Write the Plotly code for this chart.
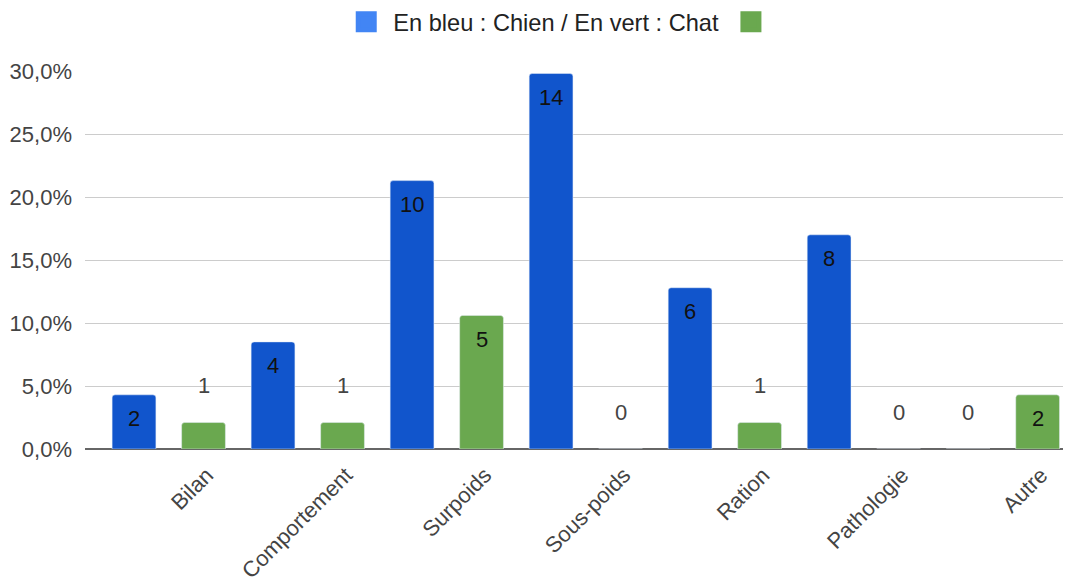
import plotly.graph_objects as go

# ---- data ----
categories = ["Bilan", "Comportement", "Surpoids", "Sous-poids", "Ration", "Pathologie", "Autre"]
dog_pct = [4.3, 8.5, 21.3, 29.8, 12.8, 17.0, 0.0]      # En bleu : Chien (%)
cat_pct = [2.1, 2.1, 10.6, 0.0, 2.1, 0.0, 4.3]         # En vert : Chat (%)
dog_counts = [2, 4, 10, 14, 6, 8, 0]
cat_counts = [1, 1, 5, 0, 1, 0, 2]
y_ticks = [0, 5, 10, 15, 20, 25, 30]
y_tick_labels = ["0,0%", "5,0%", "10,0%", "15,0%", "20,0%", "25,0%", "30,0%"]
legend_name = "En bleu : Chien / En vert : Chat"

# ---- styles ----
FONT = "Liberation Sans, Arial, sans-serif"
DOG_BAR = "#1155CC"
DOG_LEG = "#4285F4"
CAT_BAR = "#6AA84F"

dog_x = [2 * i for i in range(len(categories))]
cat_x = [2 * i + 1 for i in range(len(categories))]
tick_x = [x + 0.05 for x in cat_x]

fig = go.Figure()
fig.add_trace(go.Bar(x=dog_x, y=dog_pct, width=0.63, marker=dict(color=DOG_BAR, cornerradius=3),
                     showlegend=False, hoverinfo="y"))
fig.add_trace(go.Bar(x=cat_x, y=cat_pct, width=0.63, marker=dict(color=CAT_BAR, cornerradius=3),
                     showlegend=False, hoverinfo="y"))
# legend entries
fig.add_trace(go.Scatter(x=[None], y=[None], mode="markers", name=legend_name,
                         marker=dict(symbol="square", size=16, color=DOG_LEG,
                                     line=dict(color=DOG_LEG, width=7))))
fig.add_trace(go.Scatter(x=[None], y=[None], mode="markers", name="",
                         marker=dict(symbol="square", size=16, color=CAT_BAR,
                                     line=dict(color=CAT_BAR, width=7))))

annotations = []
for xs, vals, counts in ((dog_x, dog_pct, dog_counts), (cat_x, cat_pct, cat_counts)):
    for x, v, c in zip(xs, vals, counts):
        inside = v >= 3
        annotations.append(dict(x=x, y=v, xref="x", yref="y", text=str(c), showarrow=False,
                                yshift=-24 if inside else 37,
                                font=dict(family=FONT, size=22,
                                          color="#111111" if inside else "#444444")))

# the page body adds an 8px offset, margins compensate for it
fig.update_layout(
    width=1071, height=582,
    margin=dict(l=77, r=8, t=63, b=141),
    paper_bgcolor="white", plot_bgcolor="white",
    separators=", ",
    font=dict(family=FONT, size=22, color="#444444"),
    barmode="overlay",
    showlegend=True,
    legend=dict(orientation="h", x=0.483, xanchor="center", xref="paper",
                y=1 - 14 / 582, yanchor="middle", yref="container", itemwidth=44,
                font=dict(family=FONT, size=23.6, color="#222222"), bgcolor="rgba(0,0,0,0)"),
    annotations=annotations,
)
fig.update_xaxes(range=[-0.705, 13.48], tickmode="array", tickvals=tick_x, ticktext=categories,
                 tickangle=-45, showgrid=False, zeroline=False, showline=False, ticks="",
                 automargin=False, ticklabelstandoff=8,
                 tickfont=dict(family=FONT, size=22, color="#444444"))
fig.update_yaxes(range=[0, 30], tickmode="array", tickvals=y_ticks, ticktext=y_tick_labels,
                 showgrid=True, gridcolor="#cccccc", gridwidth=1,
                 zeroline=True, zerolinecolor="#666666", zerolinewidth=2,
                 ticks="", ticklabelstandoff=12, automargin=False,
                 tickfont=dict(family=FONT, size=22, color="#444444"))

fig.write_html("out.html")
